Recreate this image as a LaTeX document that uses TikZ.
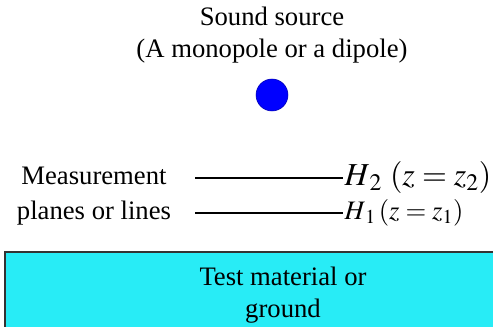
\documentclass[tikz,border=0pt]{standalone}
\usepackage{mathptmx}
\usepackage{fontspec}
\setmainfont{Liberation Serif}
\usepackage{tikz}
\usetikzlibrary{positioning,calc}
\definecolor{groundcyan}{RGB}{40,236,246}
\tikzset{
  lbl/.style={font=\fontsize{20}{24}\selectfont, align=center, inner sep=0pt},
  mlbl/.style={anchor=west, inner sep=1pt},
  source/.style={circle, fill=blue, draw=blue!70!black, minimum size=24pt, inner sep=0pt},
  plane/.style={line width=1.4pt},
  ground/.style={fill=groundcyan, draw=black!80, line width=1pt},
}
\begin{document}
\begin{tikzpicture}[x=0.75pt,y=-0.75pt]
  \useasboundingbox (0,0) rectangle (493,327);
  % sound source
  \node[lbl] (srctxt) at (272,35) {Sound source\\(A monopole or a dipole)};
  \node[source] (src) at (272,95) {};
  % measurement planes
  \coordinate (a2) at (195,178);
  \coordinate (a1) at (195,213);
  \node[mlbl, font=\fontsize{24}{26}\selectfont] (h2) at (343,178) {$H_{\,2}\ (z=z_{2})$};
  \node[mlbl, font=\fontsize{20}{22}\selectfont] (h1) at (343,213) {$H_{\,1}\,(z=z_{1})$};
  \draw[plane] (a2) -- (h2.west);
  \draw[plane] (a1) -- (h1.west);
  \node[lbl, font=\fontsize{20}{26}\selectfont] (meas) at (94,196) {Measurement\\planes or lines};
  % test material
  \draw[ground] (5,333) -- (5,252) -- (500,252);
  \fill[groundcyan] (6,253) rectangle (500,333);
  \node[lbl] (gnd) at (283,295) {Test material or\\ground};
\end{tikzpicture}
\end{document}
